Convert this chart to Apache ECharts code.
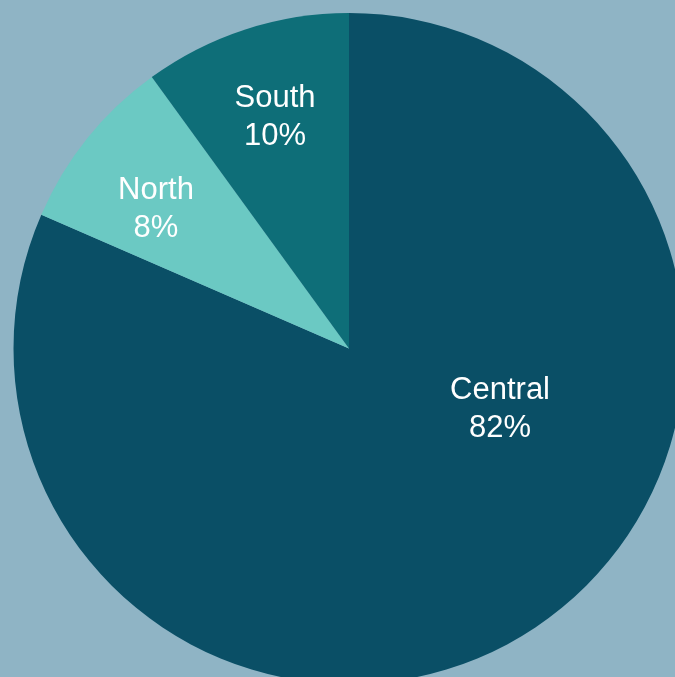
<!DOCTYPE html>
<html>
<head>
<meta charset="utf-8">
<script src="https://cdn.jsdelivr.net/npm/echarts@6/dist/echarts.min.js"></script>
<style>
html,body{margin:0;padding:0;background:#8FB4C5;}
#chart{width:675px;height:677px;}
</style>
</head>
<body>
<div id="chart"></div>
<script>
// Data
const categories = ['Central', 'North', 'South'];
const shares = [81.53, 8.47, 10.0];

// Styles
const sliceColors = { Central: '#0A4F66', North: '#6BC9C3', South: '#0E6E78' };
const pieCenter = [349, 348.5];
const pieRadius = 335.5;
// label placement: [angle clockwise from 12 o'clock (deg), fraction of radius]
const labelPlacement = { Central: [111.84, 0.485], North: [-54.24, 0.709], South: [-17.76, 0.723] };

const chart = echarts.init(document.getElementById('chart'), null, { renderer: 'canvas' });
chart.setOption({
  backgroundColor: '#8FB4C5',
  animation: false,
  series: [{
    type: 'pie',
    center: pieCenter,
    radius: pieRadius,
    startAngle: 90,
    clockwise: true,
    avoidLabelOverlap: false,
    silent: true,
    data: categories.map((c, i) => ({ name: c, value: shares[i], itemStyle: { color: sliceColors[c] } })),
    label: {
      show: true,
      position: 'inside',
      formatter: p => p.name + '\n' + Math.round(p.value) + '%',
      color: '#ffffff',
      fontFamily: 'Liberation Sans, Arial, sans-serif',
      fontSize: 31,
      lineHeight: 38,
      align: 'center',
      verticalAlign: 'middle'
    },
    labelLine: { show: false },
    labelLayout: function (p) {
      const pl = labelPlacement[categories[p.dataIndex]];
      const a = pl[0] * Math.PI / 180;
      return {
        x: pieCenter[0] + pl[1] * pieRadius * Math.sin(a),
        y: pieCenter[1] - pl[1] * pieRadius * Math.cos(a),
        align: 'center',
        verticalAlign: 'middle'
      };
    }
  }]
});
</script>
</body>
</html>
